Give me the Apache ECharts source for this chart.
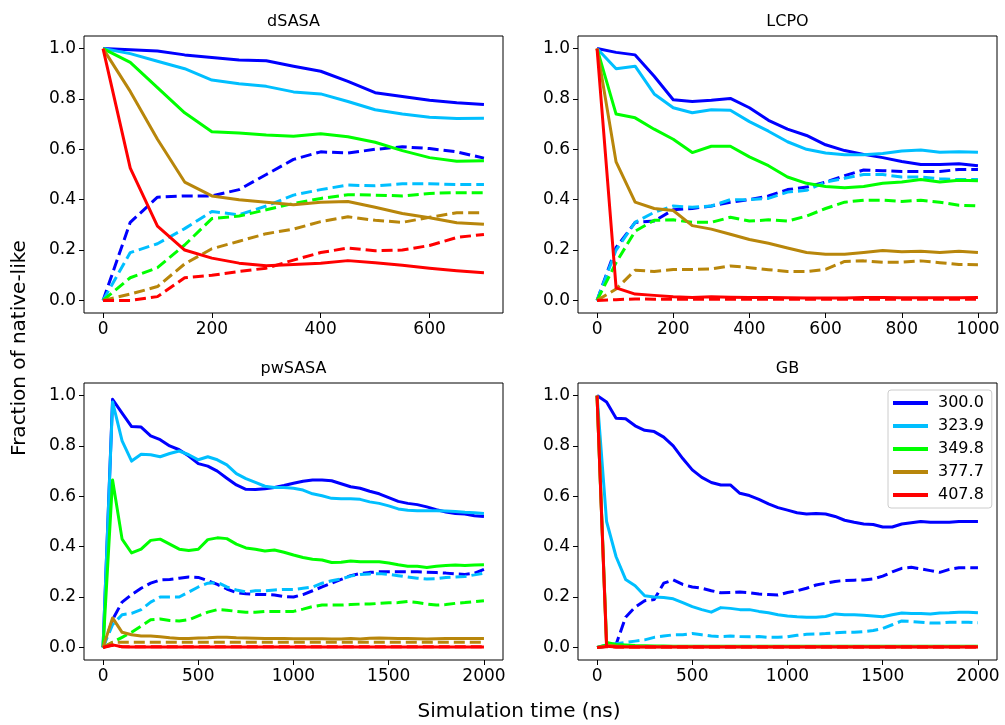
<!DOCTYPE html>
<html>
<head>
<meta charset="utf-8">
<script src="https://cdn.jsdelivr.net/npm/echarts@6/dist/echarts.min.js"></script>
<style>
  html, body { margin: 0; padding: 0; background: #ffffff; }
  #chart { width: 1005px; height: 725px; }
</style>
</head>
<body>
<div id="chart"></div>
<script>
// Time axes (ns)
const dsasaTime = [0, 50, 100, 150, 200, 250, 300, 350, 400, 450, 500, 550, 600, 650, 700];
const lcpoTime = [0, 50, 100, 150, 200, 250, 300, 350, 400, 450, 500, 550, 600, 650, 700, 750, 800, 850, 900, 950, 1000];
const longTime = [0, 50, 100, 150, 200, 250, 300, 350, 400, 450, 500, 550, 600, 650, 700, 750, 800, 850, 900, 950,
  1000, 1050, 1100, 1150, 1200, 1250, 1300, 1350, 1400, 1450, 1500, 1550, 1600, 1650, 1700, 1750, 1800, 1850, 1900, 1950, 2000];

// Temperatures (K) and their colours
const temperatures = ['300.0', '323.9', '349.8', '377.7', '407.8'];
const tempColors = ['#0000ff', '#00bfff', '#00ff00', '#b8860b', '#ff0000'];

// Tick labels
const yTicks = [0, 0.2, 0.4, 0.6, 0.8, 1.0];
const dsasaTicks = [0, 200, 400, 600];
const lcpoTicks = [0, 200, 400, 600, 800, 1000];
const longTicks = [0, 500, 1000, 1500, 2000];

// dSASA — solid
const dsasaSolid300 = [1.0, 0.995, 0.99, 0.975, 0.965, 0.955, 0.952, 0.93, 0.91, 0.87, 0.825, 0.81, 0.795, 0.785, 0.778];
const dsasaSolid324 = [1.0, 0.98, 0.95, 0.92, 0.875, 0.86, 0.85, 0.828, 0.82, 0.79, 0.757, 0.74, 0.727, 0.722, 0.723];
const dsasaSolid350 = [1.0, 0.945, 0.845, 0.745, 0.67, 0.665, 0.657, 0.652, 0.662, 0.65, 0.628, 0.595, 0.567, 0.553, 0.555];
const dsasaSolid378 = [1.0, 0.83, 0.64, 0.47, 0.415, 0.4, 0.39, 0.38, 0.39, 0.393, 0.37, 0.345, 0.328, 0.308, 0.302];
const dsasaSolid408 = [1.0, 0.525, 0.295, 0.2, 0.168, 0.148, 0.138, 0.143, 0.148, 0.158, 0.15, 0.14, 0.128, 0.118, 0.11];
// dSASA — dashed
const dsasaDashed300 = [0, 0.31, 0.41, 0.415, 0.415, 0.44, 0.5, 0.56, 0.59, 0.585, 0.6, 0.61, 0.603, 0.59, 0.565];
const dsasaDashed324 = [0, 0.19, 0.225, 0.285, 0.353, 0.34, 0.375, 0.418, 0.44, 0.458, 0.455, 0.463, 0.463, 0.46, 0.46];
const dsasaDashed350 = [0, 0.09, 0.13, 0.22, 0.325, 0.335, 0.36, 0.385, 0.405, 0.42, 0.418, 0.415, 0.425, 0.428, 0.428];
const dsasaDashed378 = [0, 0.025, 0.055, 0.145, 0.205, 0.235, 0.265, 0.283, 0.313, 0.332, 0.318, 0.31, 0.33, 0.348, 0.348];
const dsasaDashed408 = [0, 0, 0.015, 0.09, 0.1, 0.115, 0.128, 0.16, 0.19, 0.208, 0.197, 0.2, 0.218, 0.25, 0.262];

// LCPO — solid
const lcpoSolid300 = [1.0, 0.985, 0.975, 0.89, 0.797, 0.79, 0.795, 0.802, 0.765, 0.715, 0.68, 0.655, 0.618, 0.595, 0.58, 0.567, 0.552, 0.54, 0.54, 0.543, 0.535];
const lcpoSolid324 = [1.0, 0.92, 0.93, 0.82, 0.765, 0.745, 0.757, 0.755, 0.71, 0.672, 0.63, 0.6, 0.585, 0.578, 0.578, 0.583, 0.593, 0.597, 0.588, 0.59, 0.588];
const lcpoSolid350 = [1.0, 0.74, 0.725, 0.68, 0.64, 0.587, 0.612, 0.612, 0.57, 0.535, 0.49, 0.465, 0.452, 0.447, 0.452, 0.465, 0.47, 0.48, 0.47, 0.477, 0.475];
const lcpoSolid378 = [1.0, 0.55, 0.39, 0.365, 0.357, 0.297, 0.283, 0.263, 0.242, 0.227, 0.208, 0.19, 0.183, 0.183, 0.19, 0.198, 0.193, 0.195, 0.19, 0.195, 0.19];
const lcpoSolid408 = [1.0, 0.05, 0.025, 0.02, 0.015, 0.012, 0.015, 0.013, 0.012, 0.012, 0.011, 0.01, 0.01, 0.01, 0.012, 0.012, 0.011, 0.011, 0.011, 0.011, 0.012];
// LCPO — dashed
const lcpoDashed300 = [0, 0.21, 0.31, 0.315, 0.36, 0.365, 0.375, 0.39, 0.4, 0.415, 0.44, 0.45, 0.47, 0.495, 0.518, 0.515, 0.512, 0.512, 0.512, 0.52, 0.52];
const lcpoDashed324 = [0, 0.2, 0.31, 0.35, 0.375, 0.37, 0.375, 0.4, 0.4, 0.405, 0.43, 0.437, 0.47, 0.485, 0.5, 0.5, 0.49, 0.49, 0.483, 0.48, 0.48];
const lcpoDashed350 = [0, 0.15, 0.275, 0.318, 0.32, 0.31, 0.31, 0.33, 0.315, 0.32, 0.315, 0.335, 0.365, 0.39, 0.398, 0.398, 0.393, 0.398, 0.39, 0.378, 0.375];
const lcpoDashed378 = [0, 0.045, 0.12, 0.115, 0.123, 0.123, 0.125, 0.137, 0.13, 0.122, 0.115, 0.115, 0.123, 0.155, 0.157, 0.152, 0.152, 0.157, 0.15, 0.143, 0.142];
const lcpoDashed408 = [0, 0.003, 0.006, 0.005, 0.005, 0.005, 0.005, 0.005, 0.005, 0.005, 0.005, 0.005, 0.005, 0.005, 0.005, 0.005, 0.005, 0.005, 0.005, 0.005, 0.005];

// pwSASA — solid
const pwsasaSolid300 = [0, 0.985, 0.93, 0.877, 0.875, 0.84, 0.825, 0.8, 0.785, 0.76, 0.73, 0.72, 0.7, 0.672, 0.645, 0.628, 0.627, 0.63, 0.635, 0.643, 0.652,
  0.66, 0.665, 0.665, 0.662, 0.65, 0.638, 0.632, 0.62, 0.61, 0.595, 0.58, 0.572, 0.567, 0.558, 0.547, 0.538, 0.532, 0.53, 0.523, 0.52];
const pwsasaSolid324 = [0, 0.975, 0.82, 0.74, 0.767, 0.765, 0.757, 0.77, 0.78, 0.765, 0.745, 0.757, 0.745, 0.725, 0.69, 0.67, 0.655, 0.64, 0.635, 0.635, 0.632,
  0.625, 0.61, 0.602, 0.592, 0.59, 0.59, 0.588, 0.578, 0.572, 0.562, 0.55, 0.545, 0.543, 0.543, 0.543, 0.542, 0.54, 0.537, 0.535, 0.532];
const pwsasaSolid350 = [0, 0.665, 0.43, 0.375, 0.39, 0.425, 0.43, 0.41, 0.39, 0.385, 0.39, 0.428, 0.435, 0.432, 0.41, 0.395, 0.39, 0.383, 0.387, 0.378, 0.367,
  0.357, 0.35, 0.347, 0.337, 0.338, 0.343, 0.34, 0.34, 0.34, 0.335, 0.328, 0.322, 0.322, 0.317, 0.322, 0.325, 0.327, 0.325, 0.327, 0.328];
const pwsasaSolid378 = [0, 0.117, 0.06, 0.05, 0.045, 0.045, 0.042, 0.038, 0.035, 0.035, 0.037, 0.038, 0.04, 0.04, 0.038, 0.037, 0.036, 0.035, 0.035, 0.035, 0.034,
  0.034, 0.034, 0.034, 0.033, 0.033, 0.035, 0.033, 0.036, 0.037, 0.036, 0.035, 0.035, 0.034, 0.033, 0.034, 0.035, 0.035, 0.035, 0.035, 0.035];
const pwsasaSolid408 = [0, 0.01, 0.003, 0.002, 0.002, 0.002, 0.002, 0.002, 0.002, 0.002, 0.002, 0.002, 0.002, 0.002, 0.002, 0.002, 0.002, 0.002, 0.002, 0.002, 0.002,
  0.002, 0.002, 0.002, 0.002, 0.002, 0.002, 0.002, 0.002, 0.002, 0.002, 0.002, 0.002, 0.002, 0.002, 0.002, 0.002, 0.002, 0.002, 0.002, 0.002];
// pwSASA — dashed
const pwsasaDashed300 = [0, 0.11, 0.18, 0.21, 0.235, 0.255, 0.268, 0.27, 0.275, 0.28, 0.278, 0.265, 0.25, 0.232, 0.218, 0.213, 0.21, 0.21, 0.208, 0.202, 0.2,
  0.21, 0.225, 0.24, 0.255, 0.27, 0.285, 0.293, 0.298, 0.3, 0.3, 0.3, 0.3, 0.3, 0.298, 0.297, 0.295, 0.292, 0.29, 0.295, 0.31];
const pwsasaDashed324 = [0, 0.09, 0.13, 0.135, 0.15, 0.18, 0.2, 0.2, 0.2, 0.22, 0.24, 0.255, 0.258, 0.24, 0.228, 0.22, 0.225, 0.225, 0.228, 0.23, 0.23,
  0.235, 0.24, 0.255, 0.265, 0.272, 0.283, 0.29, 0.292, 0.293, 0.29, 0.285, 0.28, 0.275, 0.272, 0.273, 0.278, 0.28, 0.282, 0.288, 0.295];
const pwsasaDashed350 = [0, 0.02, 0.04, 0.06, 0.085, 0.11, 0.113, 0.107, 0.105, 0.11, 0.125, 0.14, 0.15, 0.148, 0.143, 0.14, 0.14, 0.143, 0.143, 0.142, 0.143,
  0.152, 0.162, 0.168, 0.168, 0.168, 0.17, 0.172, 0.172, 0.175, 0.177, 0.178, 0.182, 0.178, 0.172, 0.168, 0.17, 0.175, 0.178, 0.182, 0.185];
const pwsasaDashed378 = [0, 0.02, 0.02, 0.02, 0.02, 0.02, 0.02, 0.02, 0.02, 0.02, 0.02, 0.02, 0.02, 0.02, 0.02, 0.02, 0.02, 0.02, 0.02, 0.02, 0.02,
  0.02, 0.02, 0.02, 0.02, 0.02, 0.02, 0.02, 0.02, 0.02, 0.02, 0.02, 0.02, 0.02, 0.02, 0.02, 0.02, 0.02, 0.02, 0.02, 0.02];
const pwsasaDashed408 = [0, 0.008, 0.003, 0.003, 0.003, 0.003, 0.003, 0.003, 0.003, 0.003, 0.003, 0.003, 0.003, 0.003, 0.003, 0.003, 0.003, 0.003, 0.003, 0.003, 0.003,
  0.003, 0.003, 0.003, 0.003, 0.003, 0.003, 0.003, 0.003, 0.003, 0.003, 0.003, 0.003, 0.003, 0.003, 0.003, 0.003, 0.003, 0.003, 0.003, 0.003];

// GB — solid
const gbSolid300 = [1.0, 0.975, 0.91, 0.908, 0.88, 0.862, 0.857, 0.835, 0.8, 0.75, 0.705, 0.675, 0.655, 0.645, 0.645, 0.612, 0.603, 0.588, 0.57, 0.555, 0.545,
  0.535, 0.53, 0.532, 0.53, 0.52, 0.505, 0.497, 0.49, 0.488, 0.478, 0.478, 0.49, 0.495, 0.5, 0.497, 0.497, 0.497, 0.5, 0.5, 0.5];
const gbSolid324 = [1.0, 0.5, 0.36, 0.27, 0.245, 0.205, 0.2, 0.198, 0.193, 0.178, 0.162, 0.15, 0.14, 0.158, 0.155, 0.15, 0.15, 0.143, 0.138, 0.13, 0.125,
  0.122, 0.12, 0.12, 0.123, 0.133, 0.13, 0.13, 0.128, 0.125, 0.122, 0.13, 0.137, 0.135, 0.135, 0.133, 0.137, 0.138, 0.14, 0.14, 0.138];
const gbSolid350 = [1.0, 0.02, 0.012, 0.01, 0.008, 0.007, 0.006, 0.006, 0.005, 0.005, 0.005, 0.005, 0.005, 0.005, 0.005, 0.005, 0.005, 0.005, 0.005, 0.005, 0.005,
  0.005, 0.005, 0.005, 0.005, 0.005, 0.005, 0.005, 0.005, 0.005, 0.005, 0.005, 0.005, 0.005, 0.005, 0.005, 0.005, 0.005, 0.005, 0.005, 0.005];
const gbSolid378 = [1.0, 0.01, 0.006, 0.004, 0.003, 0.003, 0.003, 0.003, 0.003, 0.003, 0.003, 0.003, 0.003, 0.003, 0.003, 0.003, 0.003, 0.003, 0.003, 0.003, 0.003,
  0.003, 0.003, 0.003, 0.003, 0.003, 0.003, 0.003, 0.003, 0.003, 0.003, 0.003, 0.003, 0.003, 0.003, 0.003, 0.003, 0.003, 0.003, 0.003, 0.003];
const gbSolid408 = [1.0, 0.005, 0.002, 0.002, 0.002, 0.002, 0.002, 0.002, 0.002, 0.002, 0.002, 0.002, 0.002, 0.002, 0.002, 0.002, 0.002, 0.002, 0.002, 0.002, 0.002,
  0.002, 0.002, 0.002, 0.002, 0.002, 0.002, 0.002, 0.002, 0.002, 0.002, 0.002, 0.002, 0.002, 0.002, 0.002, 0.002, 0.002, 0.002, 0.002, 0.002];
// GB — dashed
const gbDashed300 = [0, 0.005, 0.012, 0.12, 0.16, 0.185, 0.19, 0.255, 0.268, 0.25, 0.24, 0.235, 0.225, 0.217, 0.218, 0.22, 0.217, 0.212, 0.21, 0.208, 0.218,
  0.225, 0.235, 0.248, 0.255, 0.262, 0.266, 0.267, 0.268, 0.272, 0.283, 0.3, 0.314, 0.318, 0.312, 0.305, 0.298, 0.31, 0.316, 0.317, 0.316];
const gbDashed324 = [0, 0.01, 0.015, 0.02, 0.025, 0.03, 0.04, 0.045, 0.05, 0.05, 0.055, 0.05, 0.045, 0.043, 0.045, 0.043, 0.042, 0.043, 0.04, 0.04, 0.042,
  0.048, 0.052, 0.053, 0.055, 0.058, 0.06, 0.06, 0.063, 0.067, 0.075, 0.09, 0.105, 0.103, 0.1, 0.097, 0.097, 0.1, 0.1, 0.1, 0.098];
const gbDashed350 = [0, 0.01, 0.006, 0.004, 0.004, 0.004, 0.004, 0.004, 0.004, 0.004, 0.004, 0.004, 0.004, 0.004, 0.004, 0.004, 0.004, 0.004, 0.004, 0.004, 0.004,
  0.004, 0.004, 0.004, 0.004, 0.004, 0.004, 0.004, 0.004, 0.004, 0.004, 0.004, 0.004, 0.004, 0.004, 0.004, 0.004, 0.004, 0.004, 0.004, 0.004];
const gbDashed378 = [0, 0.005, 0.003, 0.003, 0.003, 0.003, 0.003, 0.003, 0.003, 0.003, 0.003, 0.003, 0.003, 0.003, 0.003, 0.003, 0.003, 0.003, 0.003, 0.003, 0.003,
  0.003, 0.003, 0.003, 0.003, 0.003, 0.003, 0.003, 0.003, 0.003, 0.003, 0.003, 0.003, 0.003, 0.003, 0.003, 0.003, 0.003, 0.003, 0.003, 0.003];
const gbDashed408 = [0, 0.003, 0.002, 0.002, 0.002, 0.002, 0.002, 0.002, 0.002, 0.002, 0.002, 0.002, 0.002, 0.002, 0.002, 0.002, 0.002, 0.002, 0.002, 0.002, 0.002,
  0.002, 0.002, 0.002, 0.002, 0.002, 0.002, 0.002, 0.002, 0.002, 0.002, 0.002, 0.002, 0.002, 0.002, 0.002, 0.002, 0.002, 0.002, 0.002, 0.002];

const FONT = 'DejaVu Sans';

// One entry per subplot: data arrays plus the axis extent
const panels = [
  { title: 'dSASA', time: dsasaTime, ticks: dsasaTicks, xMax: 700,
    solid: [dsasaSolid300, dsasaSolid324, dsasaSolid350, dsasaSolid378, dsasaSolid408],
    dashed: [dsasaDashed300, dsasaDashed324, dsasaDashed350, dsasaDashed378, dsasaDashed408] },
  { title: 'LCPO', time: lcpoTime, ticks: lcpoTicks, xMax: 1000,
    solid: [lcpoSolid300, lcpoSolid324, lcpoSolid350, lcpoSolid378, lcpoSolid408],
    dashed: [lcpoDashed300, lcpoDashed324, lcpoDashed350, lcpoDashed378, lcpoDashed408] },
  { title: 'pwSASA', time: longTime, ticks: longTicks, xMax: 2000,
    solid: [pwsasaSolid300, pwsasaSolid324, pwsasaSolid350, pwsasaSolid378, pwsasaSolid408],
    dashed: [pwsasaDashed300, pwsasaDashed324, pwsasaDashed350, pwsasaDashed378, pwsasaDashed408] },
  { title: 'GB', time: longTime, ticks: longTicks, xMax: 2000,
    solid: [gbSolid300, gbSolid324, gbSolid350, gbSolid378, gbSolid408],
    dashed: [gbDashed300, gbDashed324, gbDashed350, gbDashed378, gbDashed408] }
];

// Subplot frames (px)
const gridBoxes = [
  { left: 84, top: 36, width: 419, height: 277 },
  { left: 578, top: 36, width: 419, height: 277 },
  { left: 84, top: 383, width: 419, height: 277 },
  { left: 578, top: 383, width: 419, height: 277 }
];

const tickLabelStyle = { fontFamily: FONT, fontSize: 17, color: '#000000' };

const grids = gridBoxes.map(b => ({
  left: b.left, top: b.top, width: b.width, height: b.height,
  show: true, borderColor: '#000000', borderWidth: 1, backgroundColor: 'transparent',
  containLabel: false
}));

const xAxes = panels.map((p, i) => {
  const pad = p.xMax * 0.05;
  return {
    type: 'value', gridIndex: i, min: -pad, max: p.xMax + pad,
    axisLine: { show: false, onZero: false },
    splitLine: { show: false },
    axisTick: { show: true, inside: false, length: 5, customValues: p.ticks, lineStyle: { color: '#000000', width: 1 } },
    axisLabel: { show: true, margin: 8, customValues: p.ticks, formatter: v => String(v), ...tickLabelStyle }
  };
});

const yAxes = panels.map((p, i) => ({
  type: 'value', gridIndex: i, min: -0.05, max: 1.05,
  axisLine: { show: false, onZero: false },
  splitLine: { show: false },
  axisTick: { show: true, inside: false, length: 5, customValues: yTicks, lineStyle: { color: '#000000', width: 1 } },
  axisLabel: { show: true, margin: 8, customValues: yTicks, formatter: v => v.toFixed(1), ...tickLabelStyle }
}));

const series = [];
panels.forEach((p, i) => {
  temperatures.forEach((t, k) => {
    const pair = [[p.solid[k], 'solid'], [p.dashed[k], [11, 5]]];
    pair.forEach(([vals, dash]) => {
      series.push({
        type: 'line', name: t, xAxisIndex: i, yAxisIndex: i,
        data: p.time.map((x, j) => [x, vals[j]]),
        color: tempColors[k],
        symbol: 'none', smooth: false, silent: true,
        lineStyle: { width: 3, type: dash, color: tempColors[k], cap: 'butt', join: 'round' },
        emphasis: { disabled: true },
        z: 2 + k
      });
    });
  });
});

const titles = panels.map((p, i) => ({
  text: p.title,
  left: gridBoxes[i].left + gridBoxes[i].width / 2,
  top: gridBoxes[i].top - 22,
  textAlign: 'center',
  padding: 0,
  textStyle: { fontFamily: FONT, fontSize: 16, fontWeight: 'normal', color: '#000000' }
}));

const chart = echarts.init(document.getElementById('chart'), null, { renderer: 'canvas' });
chart.setOption({
  animation: false,
  backgroundColor: '#ffffff',
  title: titles,
  grid: grids,
  xAxis: xAxes,
  yAxis: yAxes,
  series: series,
  legend: {
    data: temperatures,
    orient: 'vertical',
    left: 888, top: 390,
    icon: 'rect',
    itemWidth: 35, itemHeight: 4, itemGap: 7,
    padding: [5, 8, 5, 5],
    backgroundColor: 'rgba(255,255,255,0.8)',
    borderColor: '#cccccc', borderWidth: 1, borderRadius: 3,
    selectedMode: false,
    textStyle: { fontFamily: FONT, fontSize: 16, color: '#000000', lineHeight: 16, padding: [0, 0, 0, 5] }
  },
  graphic: [
    {
      type: 'text', x: 519, y: 712,
      style: { text: 'Simulation time (ns)', fontFamily: FONT, fontSize: 20, fill: '#000000', textAlign: 'center', textVerticalAlign: 'middle' }
    },
    {
      type: 'text', x: 20, y: 348, rotation: Math.PI / 2,
      style: { text: 'Fraction of native-like', fontFamily: FONT, fontSize: 20, fill: '#000000', textAlign: 'center', textVerticalAlign: 'middle' }
    }
  ]
});
</script>
</body>
</html>
